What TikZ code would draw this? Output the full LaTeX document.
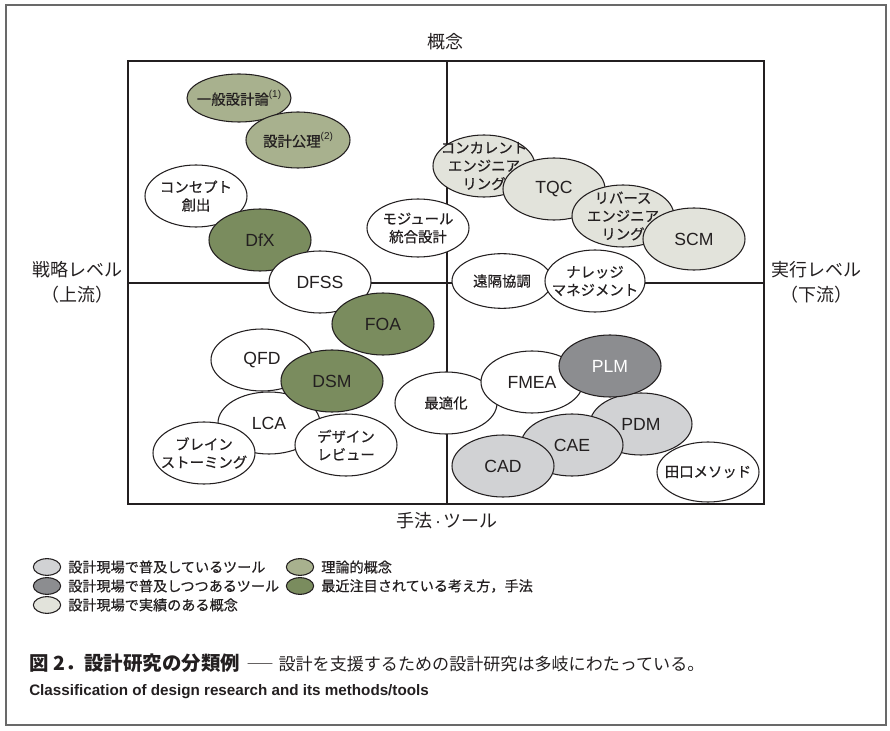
\documentclass[tikz,border=0pt]{standalone}
\usepackage{fontspec}
\setmainfont{Liberation Sans}
\newfontfamily\jp{Noto Sans CJK JP}
\newfontfamily\jpb{Noto Sans CJK JP}[FakeBold=0.5]
\usetikzlibrary{shapes.geometric}
\definecolor{ink}{RGB}{35,31,32}
\definecolor{theory}{RGB}{168,177,142}
\definecolor{recent}{RGB}{122,140,94}
\definecolor{toolA}{RGB}{209,210,212}
\definecolor{toolB}{RGB}{140,141,144}
\definecolor{concept}{RGB}{226,227,219}
\definecolor{framegray}{RGB}{105,105,105}
\newcommand\supnum[1]{\raisebox{0.5em}{\normalfont\fontsize{7.5}{8}\selectfont(#1)}}
\begin{document}
\begin{tikzpicture}[x=0.75pt,y=-0.75pt,
  ell/.style={ellipse, draw=ink, line width=0.8pt, fill=white, inner sep=-20pt,
    minimum width=76.5pt, minimum height=46.5pt, align=center, text=ink,
    font=\fontsize{13.2}{15}\selectfont},
  jt/.style={font=\jpb\fontsize{10.8}{13.5}\selectfont},
  axislbl/.style={text=ink, align=center, font=\jp\fontsize{13.5}{18.5}\selectfont},
  legmark/.style={ellipse, draw=ink, line width=0.8pt, inner sep=0pt, minimum width=20.5pt, minimum height=12.5pt},
  legtxt/.style={anchor=west, text=ink, inner sep=0pt, font=\jpb\fontsize{10.6}{13}\selectfont},
  mainline/.style={draw=ink, line width=1.9pt}
]
\useasboundingbox (0,0) rectangle (890,731);
% outer frame
\coordinate (fA) at (6,5);
\coordinate (fB) at (886,725);
\draw[framegray, line width=1.1pt] (fA) rectangle (fB);
% main matrix
\coordinate (mTL) at (128,61);
\coordinate (mBR) at (764,504);
\coordinate (mT) at (447,61);
\coordinate (mB) at (447,504);
\coordinate (mL) at (128,283);
\coordinate (mR) at (764,283);
\draw[mainline] (mTL) rectangle (mBR);
\draw[mainline] (mT) -- (mB);
\draw[mainline] (mL) -- (mR);
% axis labels
\node[axislbl] (top) at (445,42) {概念};
\node[axislbl] (bottom) at (447,521) {手法{\normalfont\fontsize{13.5}{18}\selectfont\,·\,}ツール};
\node[axislbl] (left) at (77,282) {戦略レベル\\（上流）};
\node[axislbl] (right) at (816,282) {実行レベル\\（下流）};
% ellipses, upper left
\node[ell, jt, fill=theory, minimum width=78pt, minimum height=36pt] (ippan) at (239,98) {一般設計論\supnum{1}};
\node[ell, jt, fill=theory, minimum width=78pt, minimum height=42pt] (koori) at (298,140) {設計公理\supnum{2}};
\node[ell, jt] (concept) at (196,196) {コンセプト\\創出};
\node[ell, fill=recent] (dfx) at (260,240) {DfX};
\node[ell] (dfss) at (320,282) {DFSS};
\node[ell, fill=recent] (foa) at (383,324) {FOA};
\node[ell] (qfd) at (262,360) {QFD};
\node[ell] (lca) at (269,423) {LCA};
\node[ell, fill=recent] (dsm) at (332,381) {DSM};
\node[ell, jt] (brain) at (204,453) {ブレイン\\ストーミング};
\node[ell, jt] (review) at (346,445) {デザイン\\レビュー};
% upper right
\node[ell, jt, minimum height=43.5pt] (module) at (418,228) {モジュール\\統合設計};
\node[ell, jt, fill=concept] (ce) at (484,166) {コンカレント\\エンジニア\\リング};
\node[ell, fill=concept] (tqc) at (554,189) {TQC};
\node[ell, jt, fill=concept] (re) at (623,216) {リバース\\エンジニア\\リング};
\node[ell, fill=concept] (scm) at (694,239) {SCM};
\node[ell, jt, minimum width=75pt, minimum height=41pt] (enkaku) at (502,281) {遠隔協調};
\node[ell, jt, minimum width=75pt] (km) at (595,281) {ナレッジ\\マネジメント};
% lower right
\node[ell, jt] (opt) at (446,403) {最適化};
\node[ell] (fmea) at (532,382) {FMEA};
\node[ell, fill=toolA] (pdm) at (641,424) {PDM};
\node[ell, fill=toolB, text=white] (plm) at (610,366) {PLM};
\node[ell, fill=toolA] (cae) at (572,445) {CAE};
\node[ell, fill=toolA] (cad) at (503,466) {CAD};
\node[ell, jt, minimum height=45pt] (taguchi) at (708,472) {田口メソッド};
% legend
\node[legmark, fill=toolA] (lg1) at (47,567) {};
\node[legtxt] (lt1) at (68,567) {設計現場で普及しているツール};
\node[legmark, fill=toolB] (lg2) at (47,586) {};
\node[legtxt] (lt2) at (68,586) {設計現場で普及しつつあるツール};
\node[legmark, fill=concept] (lg3) at (47,605) {};
\node[legtxt] (lt3) at (68,605) {設計現場で実績のある概念};
\node[legmark, fill=theory] (lg4) at (300,567) {};
\node[legtxt] (lt4) at (321,567) {理論的概念};
\node[legmark, fill=recent] (lg5) at (300,586) {};
\node[legtxt] (lt5) at (321,586) {最近注目されている考え方，手法};
% caption
\node[anchor=west, inner sep=0pt, text=ink] (cap1) at (29,663)
  {{\jp\bfseries\fontsize{14.6}{17}\selectfont 図 2．設計研究の分類例}\hspace{4pt}{\jp\fontsize{12.8}{15}\selectfont \scalebox{1.7}[1]{―}\hspace{3pt}設計を支援するための設計研究は多岐にわたっている。}};
\node[anchor=west, inner sep=0pt, text=ink, font=\bfseries\fontsize{11.4}{14}\selectfont] (cap2) at (29,692)
  {Classification of design research and its methods/tools};
\end{tikzpicture}
\end{document}
